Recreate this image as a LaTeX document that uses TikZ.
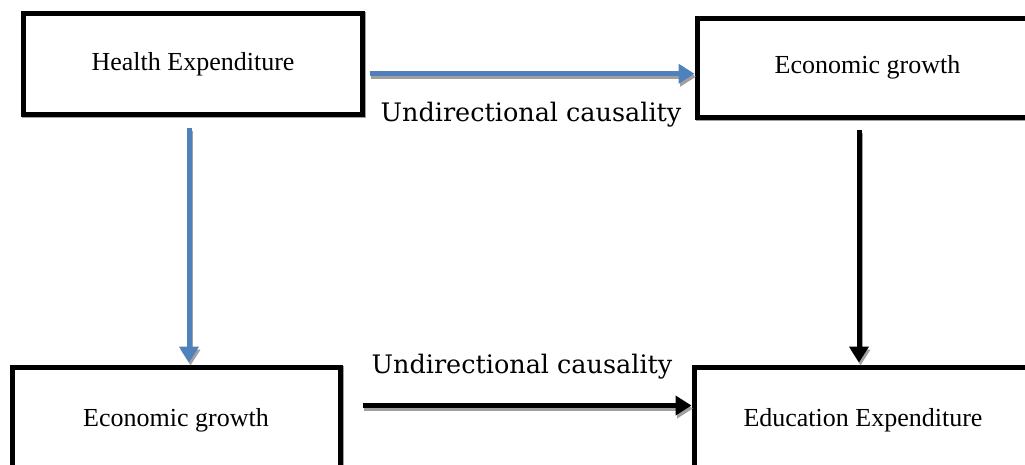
\documentclass[tikz,border=0pt]{standalone}
\usepackage{fontspec}
\newfontfamily\boxfont{Liberation Serif}
\newfontfamily\labfont{DejaVu Serif}
\usetikzlibrary{arrows.meta,calc}
\definecolor{arrblue}{RGB}{79,129,189}
\definecolor{shadowgray}{RGB}{160,160,160}
\tikzset{
  box/.style={draw=black, line width=5pt, fill=white, inner sep=0pt,
    font=\boxfont\fontsize{26}{30}\selectfont,
    preaction={draw=shadowgray, line width=5pt, transform canvas={shift={(1.2pt,-1.2pt)}}}},
  lab/.style={inner sep=0pt, font=\labfont\fontsize{25.5}{30}\selectfont},
  conn/.style={line width=5pt, -{Triangle[length=16pt,width=19pt]},
    preaction={draw=shadowgray, line width=5pt, -{Triangle[length=16pt,width=19pt]},
      transform canvas={shift={(1.5pt,-3pt)}}}},
  blueconn/.style={conn, draw=arrblue, color=arrblue},
  blackconn/.style={conn, draw=black, color=black},
}
\begin{document}
\begin{tikzpicture}[x=1pt,y=1pt]
\useasboundingbox (0,0) rectangle (1025,-464);
\clip (0,0) rectangle (1025,-464);
\node[box, minimum width=339pt, minimum height=100.5pt] (h) at (193,-63.75) {Health Expenditure};
\node[box, minimum width=341pt, minimum height=99pt] (e1) at (867.5,-67.5) {Economic growth};
\node[box, minimum width=328pt, minimum height=106pt] (e2) at (176,-420) {Economic growth};
\node[box, minimum width=338pt, minimum height=106pt] (ed) at (863,-420) {Education Expenditure};
\node[lab, anchor=base] (l1) at (531,-121) {Undirectional causality};
\node[lab, anchor=base] (l2) at (522,-373) {Undirectional causality};
\draw[blueconn] ($(h.east)+(4.5,-10)$) -- ($(h.east -| e1.west)+(0,-10)$);
\draw[blueconn] ($(h.south)+(-4,-11)$) -- ($(h.south |- e2.north)+(-4,2)$);
\draw[blackconn] ($(e1.south)+(-8.5,-10.5)$) -- ($(e1.south |- ed.north)+(-8.5,2)$);
\draw[blackconn] ($(e2.east)+(20,14.5)$) -- ($(e2.east -| ed.west)+(0,14.5)$);
\end{tikzpicture}
\end{document}
